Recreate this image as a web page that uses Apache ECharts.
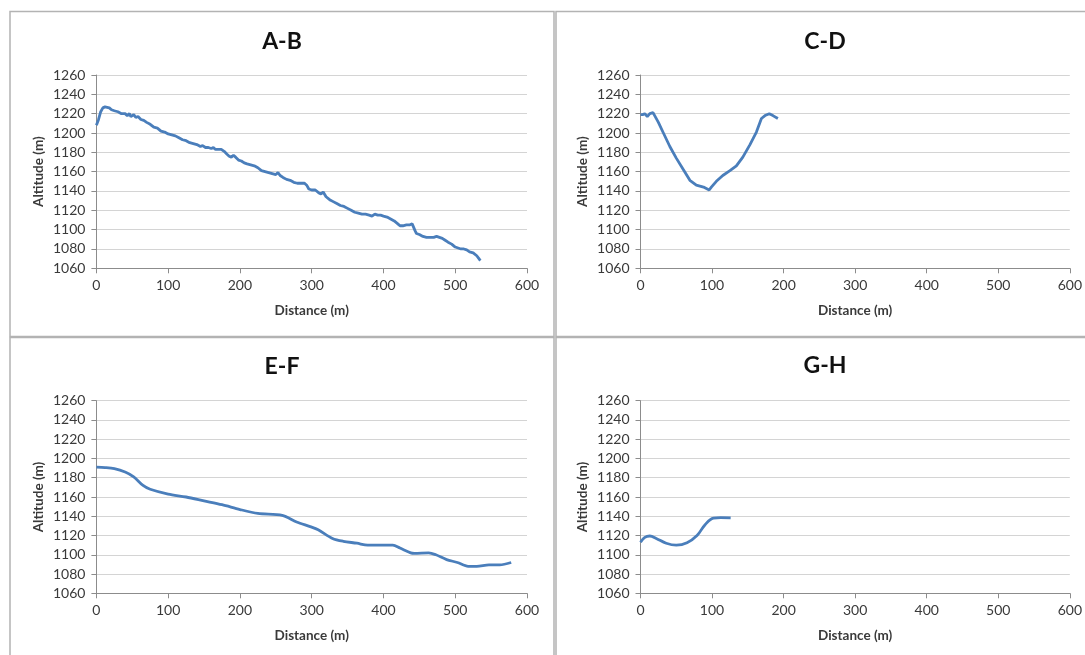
<!DOCTYPE html>
<html>
<head>
<meta charset="utf-8">
<script src="https://cdn.jsdelivr.net/npm/echarts@6/dist/echarts.min.js"></script>
<style>html,body{margin:0;padding:0;background:#fff}#c{width:1085px;height:655px}</style>
</head>
<body>
<div id="c"></div>
<script>
// ---- Data (distance m, altitude m) ----
const titles = ["A-B", "C-D", "E-F", "G-H"];
const xTicks = [0, 100, 200, 300, 400, 500, 600];
const yTicks = [1060, 1080, 1100, 1120, 1140, 1160, 1180, 1200, 1220, 1240, 1260];

const abDist = [0,3,6,9,12,15,18,21,25,30,35,40,43,46,48,52,55,58,62,66,70,75,80,85,90,95,100,105,110,115,120,125,130,135,140,145,148,152,156,160,163,166,170,174,178,182,185,188,191,194,198,202,206,210,215,220,225,230,235,240,245,250,253,256,260,265,270,275,280,285,290,293,296,300,305,310,313,316,320,325,330,335,340,345,350,355,360,365,370,375,380,384,388,392,396,400,405,410,415,420,423,427,432,437,440,442,444,446,450,455,460,465,470,474,478,482,486,490,495,500,504,508,512,516,520,525,530,533,535];
const abAlt  = [1208,1214,1222,1226,1227,1226.5,1226,1224,1223,1222,1220,1220,1218,1220,1217,1219,1216,1217,1214,1213,1211,1209,1206,1205,1202,1201,1199,1198,1197,1195,1193,1192,1190,1189,1188,1186,1187,1185,1185,1184,1185,1183,1183,1183,1181,1178,1176,1175,1177,1175,1172,1171,1169,1168,1167,1166,1164,1161,1160,1159,1158,1157,1159,1156,1154,1152,1151,1149,1148,1148,1148,1146,1142,1141,1141,1138,1137,1139,1134,1131,1129,1127,1125,1124,1122,1120,1118,1117,1116,1116,1115,1114,1116,1115,1115,1114,1113,1111,1109,1106,1104,1104,1105,1105,1106,1104,1099,1096,1095,1093,1092,1092,1092,1093,1092,1091,1089,1087,1085,1082,1081,1080,1080,1079,1077,1076,1073,1070,1068];

const cdDist = [0,3,6,9.5,13,17.5,20,25,32,41,50,60,69,78,88,96,99,106,115,125,134,143,153,162,169,174,180,185,192];
const cdAlt  = [1219,1219,1220,1217,1220,1221,1219,1211,1200,1186,1174,1162,1151,1146,1144,1141,1144,1150,1156,1161,1166,1175,1188,1201,1215,1218,1220,1218,1215];

const efDist = [0,12,25,40,52,65,75,100,125,150,175,200,225,259,279,299,309,329,344,363,378,413,423,438,443,463,473,488,503,518,530,547,562,578];
const efAlt  = [1191,1190.6,1189.5,1186,1181,1172,1168,1163,1160,1156,1152,1147,1143,1141,1134,1129,1126,1117,1114,1112,1110,1110,1107,1102,1101.5,1102,1100,1095,1092,1088,1088,1089.5,1089.5,1092];

const ghDist = [0,6,13,22,36,50,65,79,90,102,112,126];
const ghAlt  = [1113,1118,1119.5,1117,1112,1110,1112.5,1120,1131,1138,1138.5,1138.3];

// ---- Layout ----
const grids = [
  {left: 96.4, top: 75, width: 430.6, height: 193.3},
  {left: 640.5, top: 75, width: 430.5, height: 193.3},
  {left: 96.4, top: 400.7, width: 430.6, height: 192.6},
  {left: 640.5, top: 400.7, width: 430.5, height: 192.6}
];
const titlePos = [[282, 30], [825, 30], [282, 355], [825, 354]];
const seriesData = [
  abDist.map((d, i) => [d, abAlt[i]]),
  cdDist.map((d, i) => [d, cdAlt[i]]),
  efDist.map((d, i) => [d, efAlt[i]]),
  ghDist.map((d, i) => [d, ghAlt[i]])
];
const smoothFlags = [false, false, 0.3, 0.4];

const FONT = 'Lato';
const LINE = '#4a7ebb';
const AXIS = '#8c8c8c';
const GRIDC = '#d4d4d4';
const TXT = '#3a3a3a';

const option = {
  backgroundColor: '#ffffff',
  animation: false,
  title: titles.map((t, i) => ({
    text: t,
    left: titlePos[i][0],
    top: titlePos[i][1],
    textAlign: 'center',
    padding: 0,
    textStyle: {fontFamily: FONT, fontSize: 23, fontWeight: 'bold', color: '#111'}
  })),
  grid: grids.map(g => Object.assign({containLabel: false}, g)),
  xAxis: grids.map((g, i) => ({
    type: 'value', gridIndex: i,
    min: xTicks[0], max: xTicks[xTicks.length - 1], interval: 100,
    name: 'Distance (m)', nameLocation: 'middle', nameGap: 35,
    nameTextStyle: {fontFamily: FONT, fontSize: 13.5, fontWeight: 'bold', color: TXT},
    axisLine: {show: true, lineStyle: {color: AXIS, width: 1}},
    axisTick: {show: true, length: 5, lineStyle: {color: AXIS}},
    axisLabel: {fontFamily: FONT, fontSize: 14, color: TXT, margin: 10, formatter: v => String(v)},
    splitLine: {show: false}
  })),
  yAxis: grids.map((g, i) => ({
    type: 'value', gridIndex: i,
    min: yTicks[0], max: yTicks[yTicks.length - 1], interval: 20,
    name: 'Altitude (m)', nameLocation: 'middle', nameGap: 51, nameRotate: 90,
    nameTextStyle: {fontFamily: FONT, fontSize: 13.5, fontWeight: 'bold', color: TXT},
    axisLine: {show: true, lineStyle: {color: AXIS, width: 1}},
    axisTick: {show: true, length: 5, lineStyle: {color: AXIS}},
    axisLabel: {fontFamily: FONT, fontSize: 14, color: TXT, margin: 11, formatter: v => String(v)},
    splitLine: {show: true, lineStyle: {color: GRIDC, width: 1.2}}
  })),
  series: seriesData.map((d, i) => ({
    type: 'line', xAxisIndex: i, yAxisIndex: i,
    data: d, showSymbol: false, symbol: 'none',
    smooth: smoothFlags[i],
    lineStyle: {color: LINE, width: 2.8},
    z: 3
  })),
  graphic: [
    {type: 'rect', shape: {x: 10, y: 11.5, width: 544, height: 325}, style: {fill: 'none', stroke: '#b3b3b3', lineWidth: 1.5}, silent: true},
    {type: 'rect', shape: {x: 556, y: 11.5, width: 540, height: 325}, style: {fill: 'none', stroke: '#b3b3b3', lineWidth: 1.5}, silent: true},
    {type: 'rect', shape: {x: 10, y: 337.5, width: 544, height: 330}, style: {fill: 'none', stroke: '#b3b3b3', lineWidth: 1.5}, silent: true},
    {type: 'rect', shape: {x: 556, y: 337.5, width: 540, height: 330}, style: {fill: 'none', stroke: '#b3b3b3', lineWidth: 1.5}, silent: true}
  ]
};

const chart = echarts.init(document.getElementById('c'), null, {renderer: 'canvas'});
chart.setOption(option);
</script>
</body>
</html>
